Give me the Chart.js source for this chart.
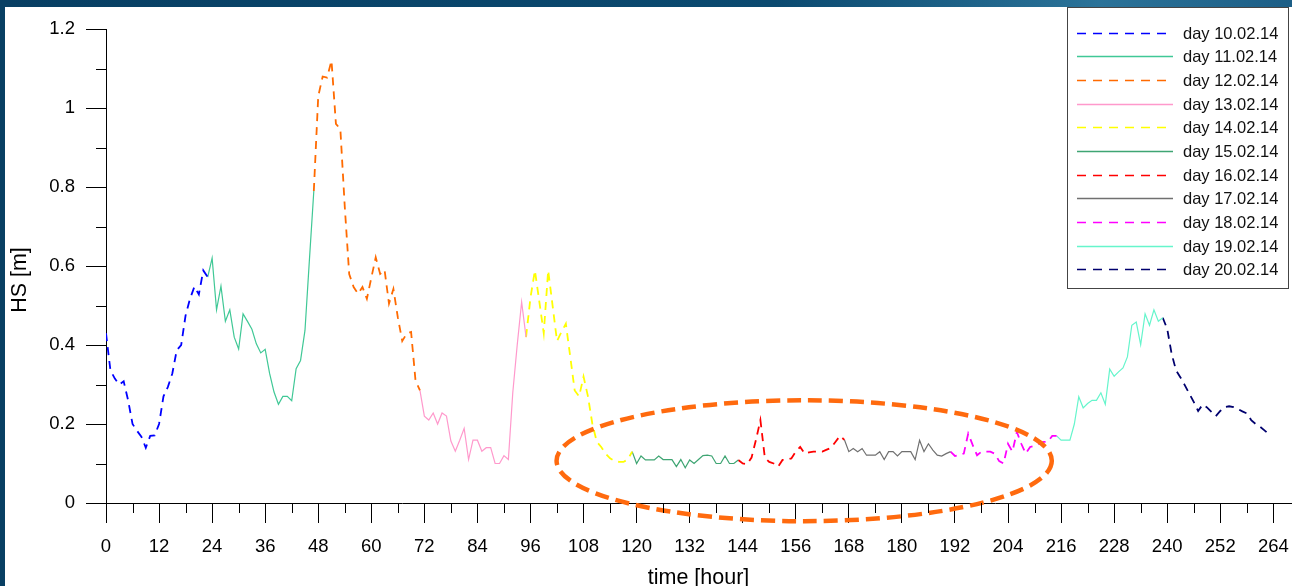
<!DOCTYPE html>
<html>
<head>
<meta charset="utf-8">
<script src="https://cdn.jsdelivr.net/npm/chart.js@4.4.1/dist/chart.umd.min.js"></script>
<style>
  html, body { margin: 0; padding: 0; }
  body {
    width: 1292px; height: 586px; overflow: hidden; position: relative;
    background: linear-gradient(90deg, #083f63 0%, #0b4a70 60%, #2b7399 85%, #1c5e86 100%);
  }
  #frame { position: absolute; left: 5px; top: 7px; width: 1287px; height: 579px; background: #fff; }
</style>
</head>
<body>
<div id="frame"><canvas id="hs" width="1287" height="579"></canvas></div>
<script>
// significant wave height, hourly, one array per day (hours 0-23 of that day)
const days = ['10.02.14', '11.02.14', '12.02.14', '13.02.14', '14.02.14', '15.02.14',
              '16.02.14', '17.02.14', '18.02.14', '19.02.14', '20.02.14'];

const hs10 = [0.43, 0.336, 0.315, 0.30, 0.308, 0.26, 0.20, 0.183, 0.168, 0.14, 0.17, 0.171,
              0.20, 0.27, 0.294, 0.328, 0.387, 0.40, 0.475, 0.517, 0.548, 0.528, 0.589, 0.572];
const hs11 = [0.62, 0.489, 0.549, 0.46, 0.489, 0.42, 0.39, 0.479, 0.46, 0.44, 0.403, 0.38,
              0.389, 0.328, 0.281, 0.25, 0.27, 0.27, 0.259, 0.34, 0.361, 0.437, 0.615, 0.79];
const hs12 = [1.03, 1.08, 1.077, 1.12, 0.96, 0.947, 0.75, 0.58, 0.547, 0.53, 0.547, 0.517,
              0.57, 0.622, 0.58, 0.59, 0.505, 0.542, 0.47, 0.41, 0.429, 0.433, 0.31, 0.285];
const hs13 = [0.22, 0.21, 0.228, 0.20, 0.228, 0.22, 0.157, 0.131, 0.159, 0.189, 0.11, 0.159,
              0.159, 0.131, 0.14, 0.14, 0.10, 0.10, 0.12, 0.11, 0.28, 0.40, 0.509, 0.42];
const hs14 = [0.52, 0.589, 0.51, 0.43, 0.589, 0.50, 0.41, 0.433, 0.454, 0.37, 0.285, 0.27,
              0.32, 0.27, 0.20, 0.155, 0.142, 0.125, 0.113, 0.107, 0.104, 0.104, 0.11, 0.13];
const hs15 = [0.10, 0.119, 0.109, 0.109, 0.109, 0.119, 0.11, 0.11, 0.11, 0.092, 0.11, 0.089,
              0.109, 0.10, 0.11, 0.12, 0.121, 0.119, 0.10, 0.10, 0.119, 0.10, 0.10, 0.109];
const hs16 = [0.10, 0.098, 0.115, 0.16, 0.21, 0.115, 0.104, 0.10, 0.092, 0.109, 0.11, 0.113,
              0.13, 0.142, 0.125, 0.128, 0.13, 0.13, 0.13, 0.135, 0.14, 0.155, 0.17, 0.16];
const hs17 = [0.13, 0.138, 0.13, 0.138, 0.121, 0.121, 0.121, 0.13, 0.11, 0.13, 0.13, 0.119,
              0.13, 0.13, 0.13, 0.11, 0.159, 0.13, 0.15, 0.134, 0.121, 0.119, 0.125, 0.13];
const hs18 = [0.119, 0.122, 0.125, 0.176, 0.147, 0.121, 0.13, 0.13, 0.13, 0.125, 0.106, 0.10,
              0.15, 0.13, 0.18, 0.15, 0.125, 0.142, 0.145, 0.15, 0.155, 0.155, 0.17, 0.17];
const hs19 = [0.159, 0.159, 0.159, 0.20, 0.269, 0.241, 0.252, 0.26, 0.26, 0.279, 0.25, 0.339,
              0.321, 0.332, 0.342, 0.37, 0.45, 0.458, 0.401, 0.479, 0.45, 0.489, 0.46, 0.469];
const hs20 = [0.441, 0.378, 0.336, 0.318, 0.298, 0.277, 0.256, 0.233, 0.249, 0.242, 0.231, 0.22,
              0.233, 0.243, 0.245, 0.243, 0.238, 0.232, 0.227, 0.21, 0.20, 0.193, 0.184, 0.174];

const hourTicks = [0, 12, 24, 36, 48, 60, 72, 84, 96, 108, 120, 132, 144, 156, 168, 180, 192, 204, 216, 228, 240, 252, 264];
const hourMinor = [6, 18, 30, 42, 54, 66, 78, 90, 102, 114, 126, 138, 150, 162, 174, 186, 198, 210, 222, 234, 246, 258];
const hsTicks = [0, 0.2, 0.4, 0.6, 0.8, 1, 1.2];
const hsMinor = [0.1, 0.3, 0.5, 0.7, 0.9, 1.1];

// calm period that gets circled: centre hour / HS and half widths
const calmZone = { hour: 157.9, hs: 0.107, halfHours: 56, halfHs: 0.153 };

const series = [hs10, hs11, hs12, hs13, hs14, hs15, hs16, hs17, hs18, hs19, hs20];
const lineColors = ['#0000ff', '#40c896', '#ff6a00', '#ff99cc', '#ffff00', '#3fa573',
                    '#ff0000', '#707070', '#ff00ff', '#66f5cc', '#00006e'];

const FONT = "'Liberation Sans', Arial, sans-serif";
Chart.defaults.font.family = FONT;
Chart.defaults.color = '#000';

const datasets = series.map((vals, d) => {
  const start = d * 24;
  const pts = vals.map((v, i) => ({ x: start + i, y: v }));
  // join to the last hour of the previous day
  if (d > 0) {
    const prev = series[d - 1];
    pts.unshift({ x: start - 1, y: prev[prev.length - 1] });
  }
  const dashed = d % 2 === 0;
  return {
    label: 'day ' + days[d],
    data: pts,
    borderColor: lineColors[d],
    borderWidth: dashed ? 1.8 : 1.2,
    borderDash: dashed ? [8, 6] : [],
    pointRadius: 0,
    tension: 0,
    fill: false
  };
});

// short ticks between the labelled ones, plus the HS axis title
const axisExtras = {
  id: 'axisExtras',
  afterDraw(chart) {
    const { ctx, chartArea, scales } = chart;
    ctx.save();
    ctx.strokeStyle = '#000';
    ctx.lineWidth = 1;
    ctx.beginPath();
    hourMinor.forEach(h => {
      const x = Math.round(scales.x.getPixelForValue(h)) + 0.5;
      ctx.moveTo(x, chartArea.bottom);
      ctx.lineTo(x, chartArea.bottom + 10);
    });
    hsMinor.forEach(v => {
      const y = Math.round(scales.y.getPixelForValue(v)) + 0.5;
      ctx.moveTo(chartArea.left - 10, y);
      ctx.lineTo(chartArea.left, y);
    });
    ctx.stroke();

    ctx.translate(15, 273);
    ctx.rotate(-Math.PI / 2);
    ctx.font = '21.5px ' + FONT;
    ctx.fillStyle = '#000';
    ctx.textAlign = 'center';
    ctx.textBaseline = 'middle';
    ctx.fillText('HS [m]', 0, 0);
    ctx.restore();
  }
};

const calmEllipse = {
  id: 'calmEllipse',
  afterDatasetsDraw(chart) {
    const { ctx, scales } = chart;
    const cx = scales.x.getPixelForValue(calmZone.hour);
    const cy = scales.y.getPixelForValue(calmZone.hs);
    const rx = scales.x.getPixelForValue(calmZone.hour + calmZone.halfHours) - cx;
    const ry = cy - scales.y.getPixelForValue(calmZone.hs + calmZone.halfHs);
    ctx.save();
    ctx.beginPath();
    ctx.ellipse(cx, cy, rx, ry, 0, 0, Math.PI * 2);
    ctx.strokeStyle = '#ff6a0e';
    ctx.lineWidth = 4.5;
    ctx.setLineDash([14, 7]);
    ctx.stroke();
    ctx.restore();
  }
};

// boxed legend in the top right corner
const legendBox = {
  id: 'legendBox',
  afterDraw(chart) {
    const ctx = chart.ctx;
    const left = 1062, top = 0, w = 221, h = 281;
    ctx.save();
    ctx.fillStyle = '#fff';
    ctx.fillRect(left, top, w, h);
    ctx.strokeStyle = '#444';
    ctx.lineWidth = 1;
    ctx.strokeRect(left + 0.5, top + 0.5, w, h);
    ctx.font = '16.5px ' + FONT;
    ctx.textBaseline = 'middle';
    chart.data.datasets.forEach((ds, i) => {
      const y = Math.round(25.7 + i * 23.66) + 0.5;
      ctx.beginPath();
      ctx.strokeStyle = ds.borderColor;
      ctx.lineWidth = ds.borderDash.length ? 1.5 : 1.4;
      ctx.setLineDash(ds.borderDash.length ? [9, 7] : []);
      ctx.moveTo(left + 10, y);
      ctx.lineTo(left + 106, y);
      ctx.stroke();
      ctx.setLineDash([]);
      ctx.fillStyle = '#111';
      ctx.fillText(ds.label, left + 116, y + 1);
    });
    ctx.restore();
  }
};

new Chart(document.getElementById('hs'), {
  type: 'line',
  data: { datasets },
  plugins: [axisExtras, calmEllipse, legendBox],
  options: {
    responsive: false,
    animation: false,
    devicePixelRatio: 1,
    layout: { padding: { top: 21, right: 1, left: 0, bottom: 0 } },
    plugins: { legend: { display: false }, tooltip: { enabled: false } },
    scales: {
      x: {
        type: 'linear',
        min: 0,
        max: 268,
        afterBuildTicks: s => { s.ticks = hourTicks.map(v => ({ value: v })); },
        // fixed height, and no extra side room for the end labels
        afterFit: s => { s.height = 83; s.paddingLeft = 0; s.paddingRight = 0; },
        grid: { drawOnChartArea: false, tickLength: 20, tickColor: '#000' },
        border: { color: '#000' },
        ticks: { font: { size: 18.5 }, padding: 13, maxRotation: 0, autoSkip: false },
        title: {
          display: true, text: 'time [hour]',
          font: { size: 21.5, lineHeight: 1 }, padding: { top: 0, bottom: -3 }
        }
      },
      y: {
        min: 0,
        max: 1.2,
        afterBuildTicks: s => { s.ticks = hsTicks.map(v => ({ value: v })); },
        afterFit: s => { s.width = 101; },
        grid: { drawOnChartArea: false, tickLength: 20, tickColor: '#000' },
        border: { color: '#000' },
        ticks: { font: { size: 18.5 }, padding: 11, callback: v => String(+v.toFixed(1)) }
      }
    }
  }
});
</script>
</body>
</html>
